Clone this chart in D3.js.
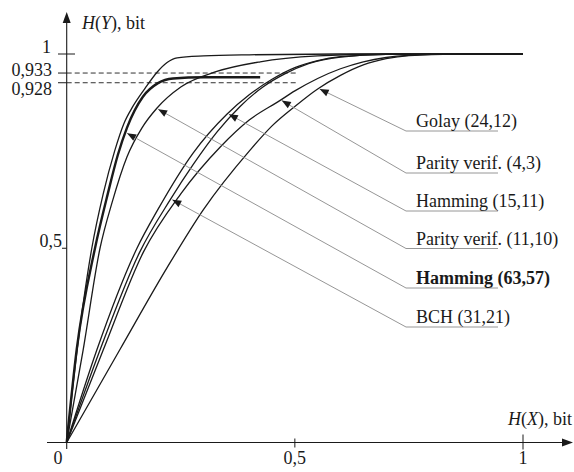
<!DOCTYPE html>
<html><head><meta charset="utf-8">
<script src="https://cdn.jsdelivr.net/npm/d3@7"></script>
<style>
html,body{margin:0;padding:0;background:#fff;}
text{font-family:"Liberation Serif","Times New Roman",serif;font-size:18px;fill:#1a1a1a;}
</style></head>
<body><svg id="c" width="574" height="472"></svg>
<script>
// ---- data ----
const seriesNames = ["Fast", "Hamming (63,57)", "Parity verif. (11,10)", "Hamming (15,11)", "BCH (31,21)", "Parity verif. (4,3)", "Golay (24,12)"];
const fastX = [0,0.023,0.055,0.08,0.105,0.125,0.145,0.172,0.198,0.22,0.242,0.3,0.4,0.6,1];
const fastY = [0,0.24,0.5,0.64,0.75,0.82,0.865,0.912,0.953,0.978,0.99,0.995,0.998,1,1];
const ham63X = [0,0.022,0.062,0.09,0.112,0.132,0.167,0.2,0.233,0.3,0.424];
const ham63Y = [0,0.24,0.5,0.64,0.74,0.81,0.89,0.925,0.937,0.94,0.94];
const par11X = [0,0.036,0.073,0.1,0.132,0.165,0.198,0.25,0.329,0.424,0.55,0.7,1];
const par11Y = [0,0.238,0.5,0.62,0.735,0.81,0.861,0.915,0.955,0.98,0.995,1,1];
const ham15X = [0,0.066,0.154,0.2,0.277,0.351,0.4,0.45,0.5,0.55,0.6,0.7,1];
const ham15Y = [0,0.238,0.5,0.6,0.745,0.845,0.895,0.935,0.965,0.983,0.993,0.999,1];
const bchX = [0,0.073,0.16,0.227,0.277,0.33,0.38,0.43,0.48,0.53,0.6,0.7,1];
const bchY = [0,0.238,0.49,0.625,0.715,0.8,0.865,0.915,0.95,0.975,0.992,0.999,1];
const par4X = [0,0.08,0.168,0.25,0.336,0.4,0.467,0.5,0.55,0.6,0.65,0.7,0.8,1];
const par4Y = [0,0.238,0.49,0.64,0.76,0.83,0.88,0.905,0.937,0.962,0.98,0.991,0.999,1];
const golayX = [0,0.117,0.22,0.3,0.4,0.45,0.5,0.55,0.6,0.65,0.7,0.75,0.85,1];
const golayY = [0,0.24,0.45,0.6,0.75,0.815,0.865,0.91,0.945,0.972,0.988,0.996,1,1];

const labelNames = ["Golay (24,12)", "Parity verif. (4,3)", "Hamming (15,11)", "Parity verif. (11,10)", "Hamming (63,57)", "BCH (31,21)"];
const labelSeries = [6, 5, 3, 2, 1, 4];
const arrowAtX = [0.55, 0.467, 0.351, 0.196, 0.128, 0.227];
const labelBold = [false, false, false, false, true, false];

const yTickValues = [1, 0.5];
const yTickLabels = ["1", "0,5"];
const guideValues = [0.951, 0.926];
const guideLabels = ["0,933", "0,928"];
const xTickValues = [0.5, 1];
const xTickLabels = ["0", "0,5", "1"];

// ---- drawing ----
const svg = d3.select("#c");
const x = d3.scaleLinear().domain([0, 1]).range([66.7, 523]);
const y = d3.scaleLinear().domain([0, 1]).range([442.5, 54]);
const ink = "#1a1a1a";

const series = [
  d3.zip(fastX, fastY), d3.zip(ham63X, ham63Y), d3.zip(par11X, par11Y),
  d3.zip(ham15X, ham15Y), d3.zip(bchX, bchY), d3.zip(par4X, par4Y), d3.zip(golayX, golayY)
];

// guides
guideValues.forEach((v, i) => {
  svg.append("line").attr("x1", 58).attr("x2", x(0)).attr("y1", y(v)).attr("y2", y(v))
    .attr("stroke", ink).attr("stroke-width", 1);
  svg.append("line").attr("x1", x(0)).attr("x2", x(0.505)).attr("y1", y(v)).attr("y2", y(v))
    .attr("stroke", ink).attr("stroke-width", 0.9).attr("stroke-dasharray", "5,3");
  svg.append("text").attr("x", 52).attr("y", y(v) + 4 + (i === 1 ? 8 : 0) - (i === 0 ? 1 : 0))
    .attr("text-anchor", "end").text(guideLabels[i]);
});

// axes
svg.append("line").attr("x1", 47).attr("x2", 566).attr("y1", y(0)).attr("y2", y(0)).attr("stroke", ink).attr("stroke-width", 1.1);
svg.append("path").attr("d", `M573,${y(0)} L562,${y(0)-4} L562,${y(0)+4} Z`).attr("fill", ink);
svg.append("line").attr("x1", x(0)).attr("x2", x(0)).attr("y1", 449).attr("y2", 19).attr("stroke", ink).attr("stroke-width", 1.1);
svg.append("path").attr("d", `M${x(0)},12 L${x(0)-4},23 L${x(0)+4},23 Z`).attr("fill", ink);

// y ticks
yTickValues.forEach((v, i) => {
  const long = v === 1;
  svg.append("line").attr("x1", long ? 58 : 62).attr("x2", long ? 75 : x(0))
    .attr("y1", y(v)).attr("y2", y(v)).attr("stroke", ink).attr("stroke-width", 1);
  svg.append("text").attr("x", long ? 51 : 62).attr("y", y(v) + (long ? -1 : -1))
    .attr("text-anchor", "end").text(yTickLabels[i]);
});
// x ticks
xTickValues.forEach(v => {
  const long = v === 1;
  svg.append("line").attr("x1", x(v)).attr("x2", x(v))
    .attr("y1", y(0) - (long ? 8 : 4)).attr("y2", y(0) + (long ? 7 : 5))
    .attr("stroke", ink).attr("stroke-width", 1);
});
svg.append("text").attr("x", 58).attr("y", 464).attr("text-anchor", "middle").text(xTickLabels[0]);
xTickValues.forEach((v, i) => {
  svg.append("text").attr("x", x(v)).attr("y", 464).attr("text-anchor", "middle").text(xTickLabels[i + 1]);
});

// axis titles
const ty = svg.append("text").attr("x", 82).attr("y", 29);
ty.append("tspan").attr("font-style", "italic").text("H");
ty.append("tspan").text("(");
ty.append("tspan").attr("font-style", "italic").text("Y");
ty.append("tspan").text("), bit");
const tx = svg.append("text").attr("x", 572).attr("y", 425).attr("text-anchor", "end");
tx.append("tspan").attr("font-style", "italic").text("H");
tx.append("tspan").text("(");
tx.append("tspan").attr("font-style", "italic").text("X");
tx.append("tspan").text("), bit");

// curves
const line = d3.line().x(d => x(d[0])).y(d => y(d[1])).curve(d3.curveMonotoneX);
series.forEach((s, i) => {
  svg.append("path").attr("d", line(s)).attr("fill", "none").attr("stroke", ink)
    .attr("stroke-width", i === 1 ? 2.4 : 1.3).attr("stroke-linejoin", "round");
});

// labels with leaders
function interp(s, xv) {
  for (let k = 1; k < s.length; k++) {
    if (xv <= s[k][0]) {
      const t = (xv - s[k-1][0]) / (s[k][0] - s[k-1][0]);
      return s[k-1][1] + t * (s[k][1] - s[k-1][1]);
    }
  }
  return s[s.length - 1][1];
}
const underlineY = [131, 173, 211, 248.5, 288, 327];
labelNames.forEach((name, i) => {
  const s = series[labelSeries[i]];
  const tipX = x(arrowAtX[i]) + 2, tipY = y(interp(s, arrowAtX[i]));
  const ux = 406, uy = underlineY[i];
  svg.append("line").attr("x1", tipX).attr("y1", tipY).attr("x2", ux).attr("y2", uy)
    .attr("stroke", "#8a8a8a").attr("stroke-width", 0.9);
  svg.append("line").attr("x1", ux).attr("y1", uy).attr("x2", 498).attr("y2", uy)
    .attr("stroke", "#8a8a8a").attr("stroke-width", 0.9);
  const ang = Math.atan2(uy - tipY, ux - tipX);
  const L = 9, W = 3.6;
  const bx = tipX + L * Math.cos(ang), by = tipY + L * Math.sin(ang);
  const px = -Math.sin(ang) * W, py = Math.cos(ang) * W;
  svg.append("path").attr("d", `M${tipX},${tipY} L${bx + px},${by + py} L${bx - px},${by - py} Z`).attr("fill", ink);
  svg.append("text").attr("x", 416).attr("y", uy - 4)
    .attr("font-weight", labelBold[i] ? "bold" : "normal").text(name);
});
</script></body></html>
